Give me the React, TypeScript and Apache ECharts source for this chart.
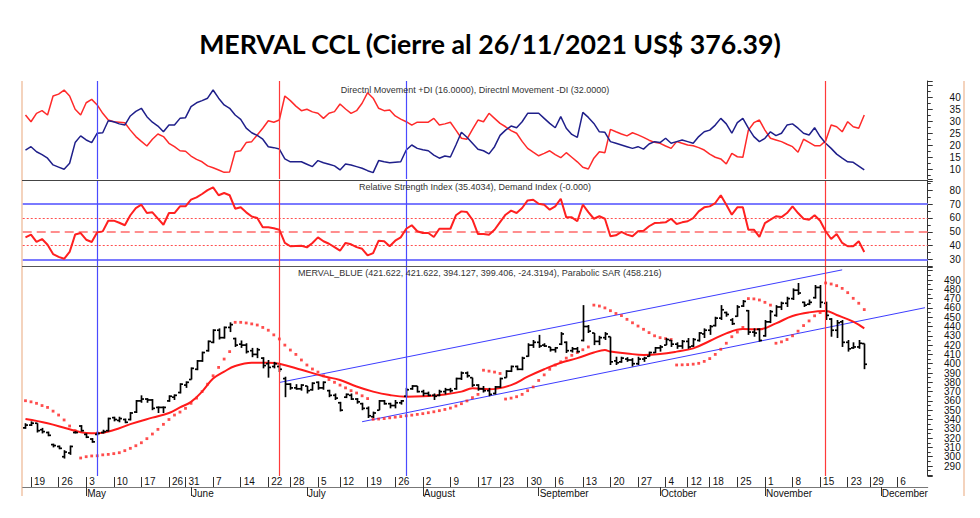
import React, { useEffect, useRef } from "react";
import * as echarts from "echarts";

// ---- trading days (categories) ----
const aprDays = [16, 19, 20, 21, 22, 23, 26, 27, 28, 29, 30];
const mayDays = [3, 4, 5, 6, 7, 10, 11, 12, 13, 14, 17, 18, 19, 20, 21, 26, 27, 28, 31];
const junDays = [1, 2, 3, 4, 7, 8, 9, 10, 11, 14, 15, 16, 17, 18, 22, 23, 24, 25, 28, 29, 30];
const julDays = [1, 2, 5, 6, 7, 8, 12, 13, 14, 15, 16, 19, 20, 21, 22, 23, 26, 27, 28, 29, 30];
const augDays = [2, 3, 4, 5, 6, 9, 10, 11, 12, 13, 17, 18, 19, 20, 23, 24, 25, 26, 27, 30, 31];
const sepDays = [1, 2, 3, 6, 7, 8, 9, 10, 13, 14, 15, 16, 17, 20, 21, 22, 23, 24, 27, 28, 29, 30];
const octDays = [1, 4, 5, 6, 7, 12, 13, 14, 15, 18, 19, 20, 21, 22, 25, 26, 27, 28, 29];
const novDays = [1, 2, 3, 4, 5, 8, 9, 10, 11, 12, 15, 16, 17, 18, 19, 23, 24, 25, 26, 29, 30];
const decDays = [1, 2, 3, 6, 7, 9, 10, 13, 14];

const weekTicks = ["04-19", "04-26", "05-03", "05-10", "05-17", "05-26", "05-31", "06-07", "06-14", "06-22", "06-28", "07-05", "07-12", "07-19", "07-26", "08-02", "08-09", "08-17", "08-23", "08-30", "09-06", "09-13", "09-20", "09-27", "10-04", "10-12", "10-18", "10-25", "11-01", "11-08", "11-15", "11-23", "11-29", "12-06"];
const monthTicks = ["05-03", "06-01", "07-01", "08-02", "09-01", "10-01", "11-01", "12-01"];
const monthNames = ["May", "June", "July", "August", "September", "October", "November", "December"];

const blueEvents = ["05-05", "07-28"];
const redEvents = ["06-24", "11-16"];

// ---- price bars (one per trading day, Apr 16 .. Nov 26) ----
const opens = [331, 334, 336, 329, 326, 313, 311, 300, 304, 326, 333, 324, 319, 324, 326, 328, 342, 339, 340, 340, 348, 360, 362, 361, 353, 353, 360, 364, 369, 377, 383, 394, 403, 414, 423, 436, 428, 439, 427, 421, 420, 414, 410, 406, 400, 397, 397, 384, 378, 374, 373, 376, 372, 380, 374, 371, 366, 358, 364, 366, 362, 357, 352, 343, 350, 360, 357, 355, 358, 365, 373, 376, 370, 368, 366, 366, 370, 372, 373, 384, 390, 385, 377, 373, 371, 368, 375, 385, 392, 397, 394, 408, 420, 423, 420, 418, 415, 421, 423, 414, 416, 425, 440, 433, 424, 428, 429, 403, 402, 405, 404, 400, 405, 408, 412, 417, 420, 425, 421, 419, 424, 419, 425, 432, 436, 441, 449, 455, 447, 451, 462, 457, 434, 437, 430, 445, 452, 461, 465, 470, 479, 466, 464, 471, 482, 465, 448, 436, 445, 423, 417, 418, 421.622];
const highs = [336, 338, 336, 331, 327, 314, 312, 307, 312, 327.5, 334, 325, 320, 327, 329, 342, 343, 343, 341, 348, 361, 366, 363, 362, 354, 354, 366, 367, 379, 381, 396, 404, 413, 425, 437, 438, 440, 444.5, 428, 425, 422, 417, 417, 407, 404, 402, 399, 386, 379, 378, 378, 376, 380, 381, 381, 372, 368, 359, 368, 368, 363, 358, 354, 348.5, 361, 361, 358, 361, 361, 374, 377, 376, 372, 370, 368, 372, 374, 374, 385, 391.6, 391.6, 385, 378, 376, 374, 376, 385, 393, 398, 398, 407.5, 422, 425.5, 431, 422, 418, 418, 434, 424, 418, 418, 463, 441.6, 433, 430, 434, 429, 407.5, 407.5, 407, 406, 407.5, 407.5, 413, 418, 420, 427.6, 425.5, 423, 425.5, 427.6, 427.6, 434, 438, 441.6, 450.5, 463, 456, 449, 463, 468.5, 457.7, 438, 438, 447, 457.7, 463, 466.7, 472, 481, 486.8, 466.7, 469, 484.6, 484.6, 466.7, 449, 447, 447, 425.5, 423, 425.5, 421.622];
const lows = [330, 333, 326, 325, 322, 310, 308, 298, 302, 325, 327, 320, 315, 323, 325, 327, 338, 337, 336, 339, 347, 358, 358, 350, 347, 347, 359, 361, 368, 374, 383, 393, 402, 413, 422, 426, 427, 434, 418, 417, 411, 407, 406, 395, 385, 395, 391, 364, 372, 372, 371, 368, 371, 372, 372, 364, 361, 348.6, 363, 361, 357, 350, 341.6, 341.6, 350, 356, 352, 352, 356, 364.5, 372, 369, 365, 365, 361, 365, 367, 369, 372, 382.5, 385, 375, 371, 369, 365, 367, 374, 385, 391, 393, 393, 407.5, 417, 417, 418, 413, 412, 420, 411.5, 412, 412, 424, 433, 420, 420, 425.5, 398.6, 398.6, 401, 402, 397, 398.6, 402, 407.5, 411.5, 413, 420, 418, 416, 416, 416, 418, 423.7, 427.6, 431, 440, 447, 450.5, 441.6, 450.5, 461, 431, 429, 423.7, 429, 443.7, 450.5, 457.7, 461, 468.5, 474, 461, 463, 470, 460, 447, 429, 427.6, 418, 413, 416, 416, 394.127];
const closes = [334, 336, 328, 327, 323, 312, 309, 305, 311, 326, 328, 321, 316, 325, 327, 341, 340, 341, 337, 347, 360, 362, 361, 352, 353, 353, 365, 366, 378, 380, 395, 403, 412, 424, 436, 428, 439, 442, 420, 420, 413, 410, 415, 398, 396, 400, 394, 378, 374, 373, 377, 371, 379, 374, 380, 366, 363, 350, 367, 362, 359, 352, 344, 347, 360, 357, 355, 358, 360, 372, 376, 370, 368, 366, 365, 370, 372, 371, 384, 390, 387, 377, 373, 371, 367, 375, 384, 392, 397, 394, 406, 420, 423, 419, 419, 415, 417, 432, 414, 416, 413, 440, 435, 424, 428, 432, 402, 401, 406, 404, 400, 405, 406, 412, 417, 418, 426, 421, 419, 424, 418, 426, 433, 436, 440, 449, 458, 453, 443, 461, 467, 434, 433, 425, 445, 456, 461, 465, 470, 479, 476, 463, 466, 482, 466, 452, 436, 444, 423, 416, 418, 422, 399.406];

// Parabolic SAR dots
const sar = [360.2, 359, 357.4, 355, 353, 349, 344.8, 339.5, 333, 328, 298.6, 300, 300.8, 301, 302, 302.5, 303.3, 304.3, 306.5, 309, 311.8, 315, 319.4, 324.4, 329.4, 334.8, 340, 344.8, 348, 352, 357.4, 363, 370, 378, 387, 396, 405, 413, 444.5, 444.5, 443.8, 442.8, 441.6, 439, 436, 431, 426.6, 420, 414.7, 410, 404, 398.6, 394.3, 391, 387, 383, 380, 377, 374, 371, 368.5, 365.5, 362.5, 340.2, 340.5, 341, 341.8, 342.5, 343.2, 344, 344.7, 345.5, 346.3, 347.3, 348.3, 349.5, 350.8, 352.3, 354.5, 357, 360, 363.5, 367, 393, 392, 391, 389.5, 362, 363, 364.5, 367, 371, 375, 382, 388, 394, 398.5, 402, 406, 409, 412, 415, 418, 463, 462, 460, 457, 454, 451.7, 447.7, 444, 440.5, 437, 433.4, 430, 428, 427, 426, 398.6, 398.8, 399, 399.5, 400.4, 402.5, 405.5, 410, 415.5, 422, 429, 434, 439, 470, 469.7, 468.5, 466, 463, 422, 423.5, 426, 430, 435, 441, 446, 451.5, 455, 486.8, 485.7, 483.9, 481, 476.4, 470.3, 465, 458.2];

// Moving average read at points [trading-day index, value]
const movingAvg = [[0, 340.5], [4, 336], [8, 329.5], [11, 325.5], [13, 325.3], [16, 328.7], [19, 335], [23, 342], [26, 347], [28, 353], [30, 359], [32, 370], [34, 384], [36, 391.5], [38, 397.5], [41, 401], [44, 401], [46, 400], [50, 393.5], [54, 386.5], [57, 382.5], [60, 375.5], [63, 370], [66, 366.3], [69, 364.5], [72, 365], [76, 367], [79, 370], [81, 373.5], [84, 372.5], [88, 377], [91, 386], [94, 394], [97, 401], [100, 406], [103, 412], [105, 414.7], [106, 413], [109, 411], [112, 409.4], [115, 410.4], [118, 413], [121, 416.5], [124, 424.4], [127, 432.6], [130, 437.3], [133, 437], [136, 443.4], [139, 451.3], [142, 455.2], [145, 456.7], [147, 452.4], [150, 445.2], [152, 438]];

// Trend channel
const upperChannel = [["06-24", 379.8], ["11-19", 500.9]];
const lowerChannel = [["07-16", 337.6], ["12-14", 460.2]];

// Directional movement
const minusDI = [32.5, 29.7, 33.2, 34.3, 32.5, 40.4, 41.2, 42.9, 40.4, 34.9, 32.5, 37.6, 39, 36.7, 33.2, 30.4, 29.7, 29.5, 29.3, 26.2, 23.5, 21.5, 19.6, 22.4, 24.6, 23.5, 20.7, 19.3, 17.6, 17.4, 15.4, 14, 13, 11.3, 10.5, 9.6, 8.6, 8.8, 17.2, 17.6, 21, 21.4, 24.2, 27, 30.1, 29.5, 30.4, 40.4, 38.5, 36.2, 34.3, 34.9, 33.8, 33.2, 31.1, 33.2, 33.9, 37.1, 35, 33.2, 34.3, 37.4, 41.8, 39.5, 35.3, 34.3, 34.6, 32.1, 30.8, 29.7, 28.3, 29.5, 29.5, 29.5, 31.1, 28.3, 28.8, 29.5, 26.2, 22.8, 22.4, 26.5, 30.4, 29.7, 33.2, 31.1, 29, 27.6, 26, 24.9, 21.5, 18.6, 17, 15.5, 16.5, 17.6, 16, 14.7, 16.8, 14.9, 13, 10.7, 10, 14.5, 17.2, 16.8, 26.5, 25.5, 24.6, 23.8, 25.1, 24.2, 23.2, 22, 21.1, 20.7, 19.6, 18.6, 21.4, 20.7, 20, 19.7, 18.9, 17.9, 16.2, 14.9, 14.2, 12.1, 16.5, 15.1, 14.9, 26.2, 29.3, 30.4, 26.2, 22.8, 22.1, 21.4, 20.3, 19.3, 17, 22.4, 21.1, 19.7, 19.7, 21.7, 28.3, 27.6, 25.5, 29.7, 27.6, 27, 32.5];
const plusDI = [17.9, 19.3, 17.2, 16, 14.5, 11.7, 10.8, 9.9, 12.4, 21, 23.8, 22.1, 21, 24.9, 25.1, 30.1, 29.7, 28.8, 28.3, 32.1, 34, 35.3, 31.8, 29.5, 27.9, 25.5, 28.3, 28.3, 31.1, 31.4, 36, 37.6, 38.5, 39.5, 42.9, 39.5, 36.7, 35.3, 32.5, 30.7, 27, 25.1, 24, 22.4, 19.3, 18.9, 18.3, 14.2, 13, 13, 13, 12, 11, 13.5, 12.6, 12, 11.3, 9.6, 12.1, 11.7, 11, 10.3, 9.3, 8.5, 13.5, 13, 12.6, 12.8, 13, 17.9, 20, 18.6, 18, 17.6, 15.8, 14.5, 15.4, 15, 20, 25.3, 23.2, 20.7, 18.2, 17.6, 16.3, 19.3, 24, 26.2, 27.9, 27.2, 29.7, 33.2, 33.2, 33.2, 31.1, 29, 27.2, 31.8, 27, 24.4, 23.2, 33.6, 31.5, 29, 25.5, 25.3, 21.4, 20.7, 20, 19.3, 18.6, 19.3, 18.3, 20.4, 21.4, 21, 22.8, 20.7, 21.4, 22.1, 21.4, 20.7, 23.5, 25.5, 26.2, 28.3, 31.1, 28.8, 24.9, 29.3, 31.1, 27, 23.5, 21.4, 22.8, 25.5, 23.9, 24.9, 28.3, 28.8, 27, 24.9, 24.2, 27.2, 23.5, 20.7, 18.6, 16.2, 14.5, 13, 12.8, 11.2, 9.6];

// RSI
const rsi = [46, 48, 42.7, 44.8, 40.7, 34, 32, 30.6, 35.5, 48, 49.1, 44.3, 42.7, 49.6, 50.3, 58, 58, 56.5, 54.7, 61.9, 67.1, 69.5, 63.5, 64, 59.5, 55.1, 63.5, 63.5, 68.3, 68.3, 73.1, 74.8, 77.2, 80, 82, 76.3, 77.9, 76.3, 66.6, 67.6, 64, 61, 59.9, 53.2, 53.2, 52.5, 51.5, 42, 39.6, 39.8, 40, 38.8, 42, 46, 43.2, 41.4, 39, 36.4, 42, 41, 39, 37.8, 33, 34.7, 43.6, 43.2, 39.6, 43.6, 46, 52.2, 54.7, 50.4, 49.1, 49.1, 46.3, 52.2, 52.2, 52.2, 61.9, 64.7, 64.2, 58.7, 48.4, 48.4, 47.9, 51.5, 57, 62.3, 65.2, 63.5, 67.1, 72.6, 73.1, 70.2, 69.5, 65.9, 68.3, 73.8, 60.4, 60.4, 57.6, 69.5, 64.2, 59.4, 61.2, 59.4, 46.8, 47.5, 49.9, 48, 46.8, 50.4, 50.8, 54, 56.3, 56.5, 56.8, 59.4, 55.6, 56.8, 57.6, 59.9, 64.7, 67.6, 68.3, 70.7, 76.3, 69.5, 62.3, 67.6, 67.6, 51.5, 51.5, 46.3, 56.3, 58.7, 61.2, 60.6, 63.5, 68.3, 63.5, 59.4, 58.7, 61.9, 58, 50.4, 44.8, 48.4, 42, 39.6, 39.6, 43.2, 35.5];
const rsiBands = [70, 30];
const rsiDotted = [60, 40];
const rsiMid = 50;

// visible tick-label ranges of the right axes
const dmiLabelRange = [10, 40];
const rsiLabelRange = [30, 80];
const priceLabelRange = [290, 490];

const titleText = "MERVAL CCL (Cierre al 26/11/2021 US$ 376.39)";
const dmiLabel = "Directnl Movement +DI (16.0000), Directnl Movement -DI (32.0000)";
const rsiLabel = "Relative Strength Index (35.4034), Demand Index (-0.000)";
const priceLabel = "MERVAL_BLUE (421.622, 421.622, 394.127, 399.406, -24.3194), Parabolic SAR (458.216)";

const monthBlocks: [string, number[]][] = [["04", aprDays], ["05", mayDays], ["06", junDays], ["07", julDays], ["08", augDays], ["09", sepDays], ["10", octDays], ["11", novDays], ["12", decDays]];
const categories: string[] = [];
monthBlocks.forEach(([m, days]) => days.forEach((d) => categories.push(m + "-" + String(d).padStart(2, "0"))));

const FONT = "Liberation Sans, Arial, sans-serif";
const GL = 22.72;
const GW = 905;
const BLUE_EVT = "#4a4aff";
const RED_EVT = "#ff3a3a";

function eventItems() {
  return [
    ...blueEvents.map((d) => ({ xAxis: d, lineStyle: { color: BLUE_EVT, width: 1.2, type: "solid", opacity: 1 } })),
    ...redEvents.map((d) => ({ xAxis: d, lineStyle: { color: RED_EVT, width: 1.2, type: "solid", opacity: 1 } })),
  ];
}

function eventLines() {
  return {
    silent: true,
    symbol: ["none", "none"],
    label: { show: false },
    lineStyle: { opacity: 1 },
    data: eventItems(),
  };
}

function yAxisBase(gridIndex: number, min: number, max: number, step: number, range: number[]) {
  return {
    type: "value",
    gridIndex,
    position: "right",
    min,
    max,
    minInterval: step,
    maxInterval: step,
    scale: true,
    splitLine: { show: false },
    axisLine: { show: true, lineStyle: { color: "#333", width: 1 } },
    axisTick: { show: true, length: 5, lineStyle: { color: "#333" } },
    minorTick: { show: true, splitNumber: 2, length: 3, lineStyle: { color: "#333" } },
    axisLabel: {
      show: true,
      showMinLabel: false,
      showMaxLabel: false,
      align: "right",
      margin: 33,
      fontSize: 10,
      color: "#111",
      fontFamily: FONT,
      formatter: (v: number) => (v >= range[0] && v <= range[1] ? String(v) : ""),
    },
  };
}

export default function App() {
  const ref = useRef<HTMLDivElement>(null);
  useEffect(() => {
    if (!ref.current) return;
    const chart = echarts.init(ref.current, undefined, { renderer: "svg" });
    const ohlc = opens.map((o, i) => [i, o, highs[i], lows[i], closes[i]]);
    const hiddenX = (gridIndex: number) => ({
      type: "category",
      gridIndex,
      data: categories,
      boundaryGap: true,
      show: false,
    });
    const smallText = { fontFamily: FONT, fontWeight: "normal", fontSize: 9, color: "#333" };
    const option: any = {
      animation: false,
      backgroundColor: "#ffffff",
      title: [
        {
          text: titleText,
          left: "center",
          top: 25,
          textStyle: { fontFamily: "Lato, Liberation Sans, sans-serif", fontWeight: "bold", fontSize: 26.7, color: "#000" },
        },
        { text: dmiLabel, left: 475, top: 85, padding: 0, textAlign: "center", textStyle: smallText },
        { text: rsiLabel, left: 475, top: 182.5, padding: 0, textAlign: "center", textStyle: smallText },
        { text: priceLabel, left: 298, top: 268.5, padding: 0, textStyle: smallText },
      ],
      graphic: [
        { type: "line", shape: { x1: 22, y1: 81, x2: 22, y2: 496 }, style: { stroke: "#f4d3bd", lineWidth: 2 } },
        { type: "line", shape: { x1: 964, y1: 81, x2: 964, y2: 496 }, style: { stroke: "#f4d3bd", lineWidth: 2 } },
        { type: "line", shape: { x1: 22, y1: 180.5, x2: 928, y2: 180.5 }, style: { stroke: "#444", lineWidth: 1 } },
        { type: "line", shape: { x1: 22, y1: 266.5, x2: 928, y2: 266.5 }, style: { stroke: "#555", lineWidth: 1 } },
      ],
      grid: [
        { left: GL, top: 81, width: GW, height: 98 },
        { left: GL, top: 181, width: GW, height: 85 },
        { left: GL, top: 267, width: GW, height: 209 },
      ],
      xAxis: [
        hiddenX(0),
        hiddenX(1),
        {
          type: "category",
          gridIndex: 2,
          data: categories,
          boundaryGap: true,
          position: "bottom",
          offset: 11,
          axisLine: { show: true, lineStyle: { color: "#777", width: 1 } },
          axisTick: {
            show: true,
            inside: true,
            length: 10,
            alignWithLabel: true,
            interval: (_i: number, v: string) => weekTicks.includes(v),
            lineStyle: { color: "#333" },
          },
          axisLabel: {
            show: true,
            inside: true,
            interval: (_i: number, v: string) => weekTicks.includes(v),
            formatter: (v: string) => String(Number(v.slice(3))),
            align: "left",
            padding: [0, 0, 0, 3],
            margin: 1,
            fontSize: 10,
            color: "#111",
            fontFamily: FONT,
          },
          splitLine: { show: false },
        },
        {
          type: "category",
          gridIndex: 2,
          data: categories,
          boundaryGap: true,
          position: "bottom",
          offset: 11,
          axisLine: { show: false },
          axisTick: {
            show: true,
            length: 9,
            alignWithLabel: true,
            interval: (_i: number, v: string) => monthTicks.includes(v),
            lineStyle: { color: "#333" },
          },
          axisLabel: {
            show: true,
            interval: (_i: number, v: string) => monthTicks.includes(v),
            formatter: (v: string) => monthNames[monthTicks.indexOf(v)] || "",
            align: "left",
            padding: [0, 0, 0, 1],
            margin: 1,
            fontSize: 10,
            color: "#111",
            fontFamily: FONT,
          },
          splitLine: { show: false },
        },
      ],
      yAxis: [
        yAxisBase(0, 5.8333, 46.667, 5, dmiLabelRange),
        yAxisBase(1, 25.4, 86.55, 10, rsiLabelRange),
        yAxisBase(2, 279.25, 503.98, 10, priceLabelRange),
      ],
      series: [
        {
          name: "-DI",
          type: "line",
          xAxisIndex: 0,
          yAxisIndex: 0,
          data: minusDI,
          symbol: "none",
          lineStyle: { color: "#ff2a2a", width: 1.5 },
          markLine: eventLines(),
        },
        {
          name: "+DI",
          type: "line",
          xAxisIndex: 0,
          yAxisIndex: 0,
          data: plusDI,
          symbol: "none",
          lineStyle: { color: "#1f1f8a", width: 1.5 },
        },
        {
          name: "RSI",
          type: "line",
          xAxisIndex: 1,
          yAxisIndex: 1,
          data: rsi,
          symbol: "none",
          z: 5,
          lineStyle: { color: "#ff2020", width: 2 },
          markLine: {
            silent: true,
            symbol: ["none", "none"],
            label: { show: false },
            data: [
              ...rsiBands.map((v) => ({ yAxis: v, lineStyle: { color: "#7a7aff", width: 2, type: "solid" } })),
              ...rsiDotted.map((v) => ({ yAxis: v, lineStyle: { color: "#ff5050", width: 1, type: [2, 2] } })),
              { yAxis: rsiMid, lineStyle: { color: "#ff6a6a", width: 1.5, type: [9, 5] } },
              ...eventItems(),
            ],
          },
        },
        {
          name: "Upper channel",
          type: "line",
          xAxisIndex: 2,
          yAxisIndex: 2,
          data: upperChannel,
          symbol: "none",
          lineStyle: { color: "#3c3cff", width: 1 },
          z: 2,
        },
        {
          name: "Lower channel",
          type: "line",
          xAxisIndex: 2,
          yAxisIndex: 2,
          data: lowerChannel,
          symbol: "none",
          lineStyle: { color: "#3c3cff", width: 1 },
          z: 2,
        },
        {
          name: "MA",
          type: "line",
          xAxisIndex: 2,
          yAxisIndex: 2,
          data: movingAvg,
          smooth: 0.4,
          symbol: "none",
          lineStyle: { color: "#ff1a1a", width: 2 },
          z: 3,
          markLine: eventLines(),
        },
        {
          name: "SAR",
          type: "scatter",
          xAxisIndex: 2,
          yAxisIndex: 2,
          data: sar,
          symbol: "rect",
          symbolSize: [2.8, 2.8],
          itemStyle: { color: "#ff2020" },
          z: 3,
        },
        {
          name: "MERVAL_BLUE",
          type: "custom",
          xAxisIndex: 2,
          yAxisIndex: 2,
          data: ohlc,
          encode: { x: 0, y: [1, 2, 3, 4] },
          z: 4,
          renderItem: (_params: any, api: any) => {
            const i = api.value(0);
            const pH = api.coord([i, api.value(2)]);
            const pL = api.coord([i, api.value(3)]);
            const pO = api.coord([i, api.value(1)]);
            const pC = api.coord([i, api.value(4)]);
            const x = Math.round(pH[0]) + 0.5;
            const style = { stroke: "#000", lineWidth: 1.7, fill: null };
            return {
              type: "group",
              children: [
                { type: "line", shape: { x1: x, y1: pH[1], x2: x, y2: pL[1] }, style },
                { type: "line", shape: { x1: x - 2.5, y1: pO[1], x2: x, y2: pO[1] }, style },
                { type: "line", shape: { x1: x, y1: pC[1], x2: x + 2.5, y2: pC[1] }, style },
              ],
            };
          },
        },
      ],
    };
    chart.setOption(option);
    return () => chart.dispose();
  }, []);
  return <div ref={ref} style={{ position: "absolute", left: 0, top: 0, width: 980, height: 518 }} />;
}
